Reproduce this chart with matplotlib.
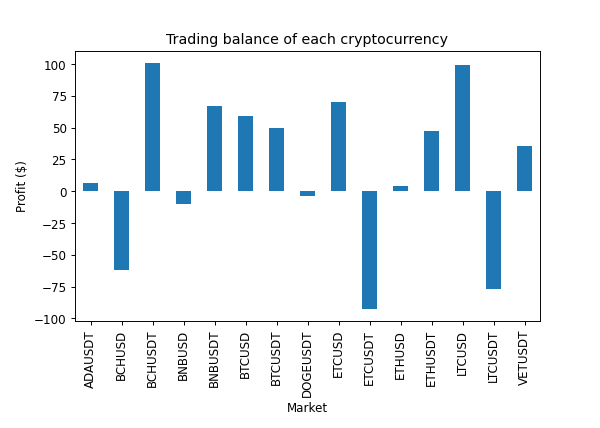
import pandas as pd
import matplotlib
matplotlib.use("Agg")
import matplotlib.pyplot as plt

markets = ["ADAUSDT", "BCHUSD", "BCHUSDT", "BNBUSD", "BNBUSDT", "BTCUSD", "BTCUSDT",
           "DOGEUSDT", "ETCUSD", "ETCUSDT", "ETHUSD", "ETHUSDT", "LTCUSD", "LTCUSDT", "VETUSDT"]
profit = [6.3, -61.7, 100.8, -10.0, 67.0, 59.4, 50.1,
          -4.0, 69.9, -92.3, 4.5, 47.5, 99.7, -76.5, 35.4]

s = pd.Series(profit, index=markets)

fig, ax = plt.subplots(figsize=(7, 5), dpi=600 / 7)
s.plot(kind="bar", ax=ax)
ax.set_title("Trading balance of each cryptocurrency")
ax.set_xlabel("Market")
ax.set_ylabel("Profit ($)")
fig.subplots_adjust(bottom=0.25)
fig.savefig("out.png", dpi=600 / 7)
